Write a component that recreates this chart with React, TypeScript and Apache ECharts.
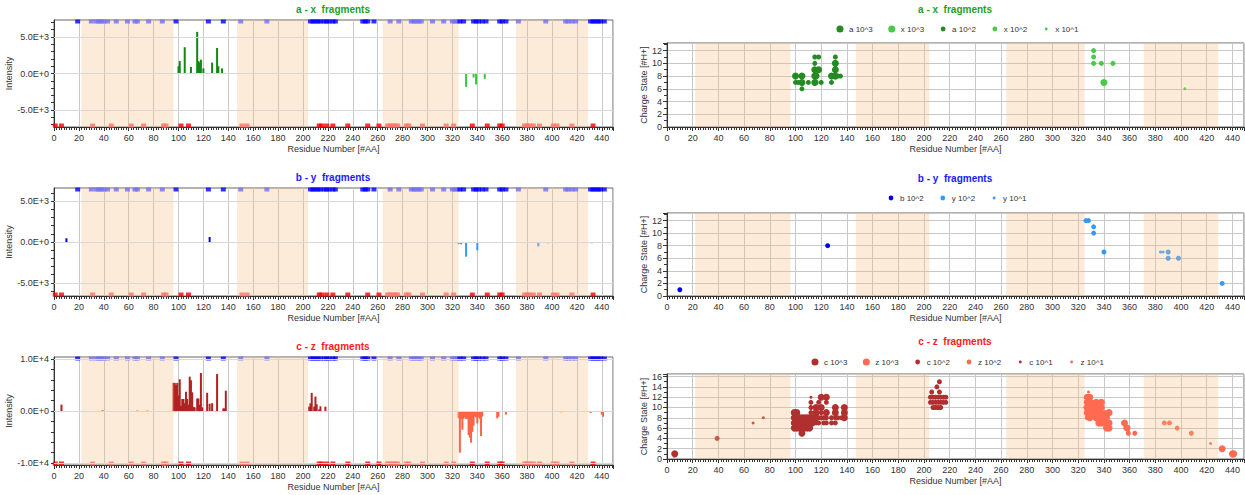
import React, { useEffect, useRef } from 'react';
import * as echarts from 'echarts';

// ---------- data ----------
const xMax = 449;
const shadedRegions: number[][] = [[22, 96], [147, 204], [264, 325], [371, 429]];

const topMarks = [19, 30, 34, 36, 38, 40, 43, 50, 59, 65, 67, 76, 87, 98, 124, 136, 150, 171, 206, 208, 210, 212, 214, 217, 219, 221, 224, 226, 248, 250, 252, 257, 270, 277, 287, 289, 291, 293, 295, 304, 313, 320, 322, 324, 326, 329, 337, 339, 341, 344, 347, 358, 360, 363, 373, 395, 411, 413, 416, 419, 431, 433, 435, 437, 439, 442];
const bottomMarks = [1, 6, 31, 46, 62, 72, 88, 90, 102, 108, 151, 155, 213, 215, 219, 224, 236, 252, 261, 268, 270, 272, 274, 276, 283, 285, 296, 315, 321, 336, 348, 358, 360, 378, 380, 382, 385, 390, 401, 404, 416, 433];

// intensities (left panels)
const aBars = [[100, 1000], [101, 1700], [105, 3600], [110, 900], [115, 5700], [116, 1700], [117, 1500], [118, 1900], [120, 700], [127, 1500], [131, 3500], [132, 1000], [135, 700]];
const xBars = [[331, -1830], [337, -550], [339, -1500], [346, -730], [403, -60]];
const bBars = [[10, 450], [125, 610]];
const yBars = [[325, -280], [327, -280], [331, -1790], [340, -1020], [382, -120], [385, -120], [389, -530], [397, -160], [432, -160]];
const cBars = [[6, 1230], [39, 150], [67, 80], [75, 80], [96, 5400], [97, 5400], [98, 5000], [99, 5400], [100, 3000], [101, 6100], [102, 1000], [103, 2300], [104, 2300], [105, 1500], [106, 3700], [107, 2300], [108, 1200], [109, 6600], [110, 5900], [111, 3600], [112, 800], [113, 700], [115, 2400], [116, 2400], [117, 1200], [118, 7300], [119, 700], [123, 3500], [125, 1400], [127, 1500], [131, 7100], [136, 500], [137, 500], [138, 3900], [205, 840], [206, 1480], [207, 3480], [209, 840], [210, 2770], [211, 1290], [213, 320], [214, 900], [218, 840]];
const zBars = [[325, -1400], [326, -8000], [327, -1500], [328, -3600], [329, -1500], [330, -1200], [331, -1500], [332, -1500], [333, -4600], [334, -5100], [335, -6100], [336, -4000], [337, -2800], [338, -1000], [339, -1200], [340, -2400], [341, -1200], [342, -1500], [343, -4800], [344, -1100], [356, -1400], [357, -1100], [363, -700], [386, -150], [390, -150], [397, -150], [407, -250], [423, -150], [431, -400], [440, -700], [441, -1100]];

// charge states (right panels)
const a3 = [[100, 8], [105, 8], [105, 7], [115, 9], [115, 8], [115, 7], [116, 8], [118, 9], [128, 8], [131, 10], [131, 9], [131, 8]];
const a2 = [[100, 7], [102, 7], [105, 6], [110, 7], [115, 11], [115, 10], [116, 7], [118, 11], [120, 7], [128, 7], [131, 11], [133, 8], [135, 8]];
const x3 = [[340, 7]];
const x2 = [[332, 12], [332, 11], [332, 10], [338, 10], [347, 10]];
const x1 = [[403, 6]];
const b2 = [[10, 1], [125, 8]];
const y2 = [[326, 12], [328, 12], [332, 11], [332, 10], [340, 7], [390, 7], [390, 6], [398, 6], [432, 2]];
const y1 = [[384, 7], [386, 7]];
const c3 = [[6, 1], [99, 6], [99, 7], [99, 8], [99, 9], [101, 6], [101, 7], [101, 8], [101, 9], [103, 6], [103, 7], [103, 8], [105, 7], [105, 8], [105, 5], [107, 6], [107, 7], [107, 8], [109, 6], [109, 7], [109, 8], [111, 6], [111, 7], [111, 8], [113, 7], [113, 8], [116, 8], [116, 9], [116, 10], [120, 10], [120, 12], [124, 9], [124, 12], [131, 10], [131, 9], [138, 8], [138, 9], [138, 10]];
const c2 = [[39, 4], [104, 7], [106, 6], [110, 7], [112, 9], [112, 10], [112, 11], [114, 7], [114, 8], [116, 7], [118, 7], [118, 8], [118, 11], [120, 9], [120, 8], [122, 7], [122, 8], [124, 8], [124, 7], [124, 11], [128, 7], [128, 8], [131, 7], [131, 8], [133, 8], [136, 8], [205, 11], [205, 12], [206, 13], [207, 10], [207, 11], [207, 12], [209, 10], [209, 11], [209, 12], [210, 14], [211, 10], [211, 11], [211, 12], [212, 13], [212, 15], [213, 10], [213, 11], [213, 12], [215, 11], [215, 12], [217, 11], [217, 12]];
const c1 = [[67, 7], [75, 8], [112, 12]];
const z3 = [[327, 9], [327, 10], [327, 11], [327, 12], [329, 8], [329, 9], [329, 10], [329, 11], [329, 12], [332, 9], [332, 10], [334, 8], [334, 9], [334, 10], [334, 11], [336, 7], [336, 8], [336, 9], [338, 7], [338, 8], [338, 10], [338, 11], [340, 7], [340, 8], [342, 6], [342, 7], [342, 8], [344, 6], [344, 7], [344, 9], [356, 7], [358, 6], [432, 2], [440, 1], [441, 1]];
const z2 = [[326, 10], [327, 8], [331, 11], [333, 8], [335, 11], [337, 11], [339, 9], [341, 9], [343, 7], [357, 6], [359, 5], [364, 5], [387, 7], [391, 7], [397, 6], [408, 5]];
const z1 = [[328, 13], [423, 3]];

const intensityLabels1 = [-5000, 0, 5000];
const intensityLabels3 = [-10000, 0, 10000];
const titles = ['a - x  fragments', 'b - y  fragments', 'c - z  fragments'];

// ---------- helpers ----------
const FONT = 'Liberation Sans, Arial, sans-serif';
const PEACH = [245, 190, 130];
const SHADE_ALPHA = 0.3;
const fmtE = (v: number) => {
  if (v === 0) return '0.0E+0';
  const e = Math.floor(Math.log10(Math.abs(v)) + 1e-9);
  return (v / Math.pow(10, e)).toFixed(1) + 'E+' + e;
};
const circleIcon = (r: number) =>
  `path://M0 0M10 10M${5 - r} 5A${r} ${r} 0 1 1 ${5 + r} 5A${r} ${r} 0 1 1 ${5 - r} 5Z`;
const ICON = { 3: circleIcon(4.4), 2: circleIcon(3), 1: circleIcon(1.8) } as any;
const SIZE = { 3: 7, 2: 5, 1: 3 } as any;
const inShade = (x: number) => shadedRegions.some(([s, e]) => x >= s && x <= e);
const tint = (hex: string) => {
  const n = parseInt(hex.slice(1), 16);
  const c = [(n >> 16) & 255, (n >> 8) & 255, n & 255];
  const m = c.map((v, i) => Math.round(v * (1 - SHADE_ALPHA) + PEACH[i] * SHADE_ALPHA));
  return `rgb(${m[0]},${m[1]},${m[2]})`;
};
const styled = (pts: number[][], color: string, fn: (p: number[]) => any[] = (p) => p) =>
  pts.map((p) => ({ value: fn(p), itemStyle: { color: inShade(p[0]) ? tint(color) : color } }));

export default function App() {
  const ref = useRef<HTMLDivElement>(null);
  useEffect(() => {
    document.body.style.margin = '0';
    const chart = echarts.init(ref.current!, null, { renderer: 'svg' });

    const grids = [
      { left: 54, top: 20, width: 559, height: 107 },
      { left: 54, top: 188, width: 559, height: 108 },
      { left: 54, top: 357, width: 559, height: 108 },
      { left: 667, top: 43, width: 577, height: 84 },
      { left: 667, top: 213, width: 577, height: 83 },
      { left: 667, top: 374, width: 577, height: 85 },
    ].map((g) => ({ ...g, show: true, borderColor: '#666', borderWidth: 1, backgroundColor: 'transparent' }));

    const axisText = { fontSize: 9, color: '#333', fontFamily: FONT };
    const xAxes = grids.map((_, i) => ({
      type: 'value', gridIndex: i, min: 0, max: xMax, interval: 20,
      name: 'Residue Number [#AA]', nameLocation: 'middle', nameGap: 17,
      nameTextStyle: { ...axisText },
      axisLine: { show: true, onZero: false, lineStyle: { color: '#333' } },
      axisTick: { show: true, length: 4, lineStyle: { color: '#333' } },
      minorTick: { show: true, splitNumber: 10, length: 3, lineStyle: { color: '#333' } },
      axisLabel: { ...axisText, margin: 6, showMaxLabel: false },
      splitLine: { show: true, lineStyle: { color: '#c8c8c8' } },
    }));

    const leftRanges = [7330, 6600, 10370];
    const leftSteps = [1000, 1000, 2000];
    const leftLabels = [intensityLabels1, intensityLabels1, intensityLabels3];
    const yAxes: any[] = [];
    for (let i = 0; i < 3; i++) {
      const R = leftRanges[i], s = leftSteps[i];
      const ticks: number[] = [];
      for (let v = -Math.floor(R / s) * s; v <= R; v += s) ticks.push(v);
      yAxes.push({
        type: 'value', gridIndex: i, min: -R, max: R,
        name: 'Intensity', nameLocation: 'middle', nameGap: 38, nameTextStyle: { ...axisText },
        axisLine: { show: true, onZero: false, lineStyle: { color: '#333' } },
        axisTick: { show: true, length: 3, customValues: ticks, lineStyle: { color: '#333' } },
        axisLabel: { ...axisText, customValues: leftLabels[i], formatter: fmtE, margin: 5 },
        splitLine: { show: false },
      });
    }
    const rightMax = [13.2, 13.2, 16.5];
    for (let i = 0; i < 3; i++) {
      yAxes.push({
        type: 'value', gridIndex: 3 + i, min: 0, max: rightMax[i], interval: 2,
        name: 'Charge State [#H+]', nameLocation: 'middle', nameGap: 18, nameTextStyle: { ...axisText },
        axisLine: { show: true, onZero: false, lineStyle: { color: '#333' } },
        axisTick: { show: true, length: 4, lineStyle: { color: '#333' } },
        minorTick: { show: true, splitNumber: 2, length: 3, lineStyle: { color: '#333' } },
        axisLabel: { ...axisText, showMaxLabel: false, margin: 5 },
        splitLine: { show: true, lineStyle: { color: '#c8c8c8' } },
      });
    }

    const shade = {
      silent: true,
      itemStyle: { color: `rgba(${PEACH[0]},${PEACH[1]},${PEACH[2]},${SHADE_ALPHA})` },
      data: shadedRegions.map(([s, e]) => [{ xAxis: s }, { xAxis: e }]),
    };

    const series: any[] = [];
    const leftDefs = [
      { pos: aBars, neg: xBars, pn: 'a', nn: 'x', pc: '#118811', nc: '#33cc33' },
      { pos: bBars, neg: yBars, pn: 'b', nn: 'y', pc: '#0000ee', nc: '#3399ff' },
      { pos: cBars, neg: zBars, pn: 'c', nn: 'z', pc: '#b22222', nc: '#ff6347' },
    ];
    leftDefs.forEach((d, i) => {
      const R = leftRanges[i];
      series.push({
        type: 'bar', name: d.pn, xAxisIndex: i, yAxisIndex: i, data: styled(d.pos, d.pc),
        barWidth: 2, barGap: '-100%', z: 3,
        markLine: {
          silent: true, symbol: ['none', 'none'], label: { show: false },
          lineStyle: { color: '#d8d8d8', type: 'solid', width: 1 },
          data: leftLabels[i].map((v) => ({ yAxis: v })),
        },
        markArea: shade,
      });
      series.push({
        type: 'bar', name: d.nn, xAxisIndex: i, yAxisIndex: i, data: styled(d.neg, d.nc),
        barWidth: 2, barGap: '-100%', z: 3,
      });
      series.push({
        type: 'scatter', name: 'top' + i, xAxisIndex: i, yAxisIndex: i, clip: false,
        data: topMarks.map((r) => ({ value: [r, R], itemStyle: { color: inShade(r) ? '#7070f0' : '#0000ff' } })),
        symbol: 'rect', symbolSize: [5, 4], symbolOffset: [0, 1.5], z: 4,
      });
      series.push({
        type: 'scatter', name: 'bottom' + i, xAxisIndex: i, yAxisIndex: i, clip: false,
        data: bottomMarks.map((r) => ({ value: [r, -R], itemStyle: { color: inShade(r) ? '#ff7468' : '#ff0000' } })),
        symbol: 'rect', symbolSize: [5, 4], symbolOffset: [0, -1.5], z: 4,
      });
    });

    const rightDefs = [
      [
        { n: 'a 10^3', d: a3, m: 3, c: '#228b22' },
        { n: 'x 10^3', d: x3, m: 3, c: '#44cc44' },
        { n: 'a 10^2', d: a2, m: 2, c: '#228b22' },
        { n: 'x 10^2', d: x2, m: 2, c: '#44cc44' },
        { n: 'x 10^1', d: x1, m: 1, c: '#44cc44' },
      ],
      [
        { n: 'b 10^2', d: b2, m: 2, c: '#0000ee' },
        { n: 'y 10^2', d: y2, m: 2, c: '#3399ff' },
        { n: 'y 10^1', d: y1, m: 1, c: '#3399ff' },
      ],
      [
        { n: 'c 10^3', d: c3, m: 3, c: '#b03030' },
        { n: 'z 10^3', d: z3, m: 3, c: '#ff6a50' },
        { n: 'c 10^2', d: c2, m: 2, c: '#b03030' },
        { n: 'z 10^2', d: z2, m: 2, c: '#ff6a50' },
        { n: 'c 10^1', d: c1, m: 1, c: '#b03030' },
        { n: 'z 10^1', d: z1, m: 1, c: '#ff6a50' },
      ],
    ];
    rightDefs.forEach((defs, j) => {
      defs.forEach((s, k) => {
        series.push({
          type: 'scatter', name: s.n, xAxisIndex: 3 + j, yAxisIndex: 3 + j, data: styled(s.d, s.c),
          symbol: 'circle', symbolSize: SIZE[s.m], itemStyle: { color: s.c, opacity: 1 }, z: 3,
          ...(k === 0 ? { markArea: shade } : {}),
        });
      });
    });

    const legendPos = [{ left: 836, top: 25 }, { left: 887, top: 194 }, { left: 811, top: 358 }];
    const legend = rightDefs.map((defs, j) => ({
      ...legendPos[j], orient: 'horizontal', itemWidth: 8, itemHeight: 8, itemGap: 15, padding: 0,
      selectedMode: false,
      textStyle: { fontSize: 8, color: '#333', fontFamily: FONT },
      data: defs.map((s) => ({ name: s.n, icon: ICON[s.m] })),
    }));

    const titleColors = ['#1fa01f', '#1a1aff', '#ff1a1a'];
    const titleOpt: any[] = [];
    const leftTitleTop = [4, 172, 341];
    const rightTitleTop = [4, 173, 336];
    for (let i = 0; i < 3; i++) {
      titleOpt.push({ text: titles[i], left: 333, top: leftTitleTop[i], textAlign: 'center', padding: 0,
        textStyle: { fontSize: 10, fontWeight: 'bold', color: titleColors[i], fontFamily: FONT } });
      titleOpt.push({ text: titles[i], left: 955, top: rightTitleTop[i], textAlign: 'center', padding: 0,
        textStyle: { fontSize: 10, fontWeight: 'bold', color: titleColors[i], fontFamily: FONT } });
    }

    chart.setOption({
      animation: false,
      backgroundColor: '#ffffff',
      title: titleOpt,
      legend,
      grid: grids,
      xAxis: xAxes,
      yAxis: yAxes,
      series,
    });
    return () => chart.dispose();
  }, []);
  return <div ref={ref} style={{ width: 1245, height: 495 }} />;
}
